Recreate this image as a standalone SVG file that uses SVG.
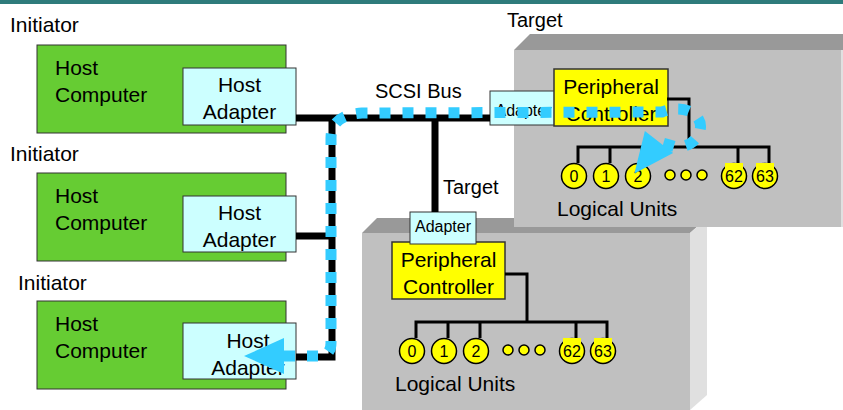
<svg xmlns="http://www.w3.org/2000/svg" width="843" height="410" viewBox="0 0 843 410">
<style>
.t{font-family:"Liberation Sans",Arial,sans-serif;fill:#000}
.big{font-size:21px}
.lbl{font-size:20px}
.sm{font-size:16px}
.mid{text-anchor:middle}
.hc{fill:#66cc33;stroke:#333;stroke-width:1}
.ha{fill:#ccffff;stroke:#333;stroke-width:1}
.pc{fill:#ffff00;stroke:#333;stroke-width:1.5}
.lu{fill:#ffff00;stroke:#000;stroke-width:1.5}
.hl{fill:#ffff00}
.tree{fill:none;stroke:#000;stroke-width:3}
.bus{fill:none;stroke:#000;stroke-width:7}
.flow{fill:none;stroke:#33ccff;stroke-width:11;stroke-dasharray:11 12}
.front{fill:#c0c0c0}
.topf{fill:#999999}
.side{fill:#e0e0e0}
</style>
<defs>
<marker id="arrowS" markerUnits="userSpaceOnUse" markerWidth="40" markerHeight="36" viewBox="0 0 38 34" refX="0" refY="17" orient="auto-start-reverse" overflow="visible">
<path d="M0,0 L38,17 L0,34 z" fill="#33ccff"/>
</marker>
<marker id="arrowE" markerUnits="userSpaceOnUse" markerWidth="40" markerHeight="36" viewBox="0 0 38 34" refX="0" refY="17" orient="128" overflow="visible">
<path d="M0,0 L38,17 L0,34 z" fill="#33ccff"/>
</marker>
</defs>
<rect x="0" y="0" width="843" height="4" fill="#2e7b7b"/>

<g id="initiator1">
<text class="t big" x="10" y="32">Initiator</text>
<rect class="hc" x="37" y="45" width="249" height="88"/>
<text class="t big" x="55" y="75">Host</text>
<text class="t big" x="55" y="102">Computer</text>
<rect class="ha" x="183" y="68" width="113" height="57"/>
<text class="t big mid" x="239.5" y="92">Host</text>
<text class="t big mid" x="239.5" y="119">Adapter</text>
</g>

<g id="initiator2">
<text class="t big" x="10" y="161">Initiator</text>
<rect class="hc" x="37" y="173" width="249" height="88"/>
<text class="t big" x="55" y="203">Host</text>
<text class="t big" x="55" y="230">Computer</text>
<rect class="ha" x="183" y="196" width="113" height="56"/>
<text class="t big mid" x="239.5" y="220">Host</text>
<text class="t big mid" x="239.5" y="247">Adapter</text>
</g>

<g id="initiator3">
<text class="t big" x="18" y="290">Initiator</text>
<rect class="hc" x="37" y="301" width="249" height="88"/>
<text class="t big" x="55" y="331">Host</text>
<text class="t big" x="55" y="358">Computer</text>
<rect class="ha" x="183" y="323" width="113" height="56"/>
<text class="t big mid" x="248" y="348">Host</text>
<text class="t big mid" x="248" y="375">Adapter</text>
</g>

<g id="target2">
<text class="t lbl" x="443" y="194">Target</text>
<polygon class="topf" points="362,233 377,218 707,218 690,233"/>
<polygon class="side" points="690,233 707,218 707,395 690,410"/>
<rect class="front" x="362" y="233" width="328" height="177"/>
<rect class="pc" x="392" y="242" width="113" height="57"/>
<text class="t big mid" x="448.5" y="267">Peripheral</text>
<text class="t big mid" x="448.5" y="294">Controller</text>
<rect class="ha" x="410" y="212" width="66" height="32"/>
<text class="t sm mid" x="443" y="232">Adapter</text>
<g id="luns2">
<path class="tree" d="M505 274 H527 V322 M416 338 V322 H607 V338 M448 322 V338 M480 322 V338 M576 322 V338"/>
<circle class="lu" cx="412" cy="351" r="12.5"/>
<circle class="lu" cx="444" cy="351" r="12.5"/>
<circle class="lu" cx="476" cy="351" r="12.5"/>
<circle class="lu" cx="508" cy="350" r="5"/>
<circle class="lu" cx="524" cy="350" r="5"/>
<circle class="lu" cx="540" cy="350" r="5"/>
<circle class="lu" cx="572" cy="351" r="12.5"/>
<circle class="lu" cx="603" cy="351" r="12.5"/>
<rect class="hl" x="563" y="338" width="18" height="21"/>
<rect class="hl" x="594" y="338" width="18" height="21"/>
<text class="t sm mid" x="412" y="357">0</text>
<text class="t sm mid" x="444" y="357">1</text>
<text class="t sm mid" x="476" y="357">2</text>
<text class="t sm mid" x="572" y="357">62</text>
<text class="t sm mid" x="603" y="357">63</text>
<text class="t big" x="395" y="391">Logical Units</text>
</g>
</g>

<g id="target1">
<text class="t lbl" x="507" y="27">Target</text>
<polygon class="topf" points="514,50 530,34 843,34 843,50"/>
<rect class="side" x="841" y="50" width="2" height="177"/>
<rect class="front" x="514" y="50" width="327" height="177"/>
<rect class="ha" x="490" y="91" width="67" height="34"/>
<text class="t sm mid" x="523.5" y="116">Adapter</text>
<rect class="pc" x="554" y="69" width="114" height="57"/>
<text class="t big mid" x="611" y="94">Peripheral</text>
<text class="t big mid" x="611" y="121">Controller</text>
<g id="luns1" transform="translate(162,-175)">
<path class="tree" d="M505 274 H527 V322 M416 338 V322 H607 V338 M448 322 V338 M480 322 V338 M576 322 V338"/>
<circle class="lu" cx="412" cy="351" r="12.5"/>
<circle class="lu" cx="444" cy="351" r="12.5"/>
<circle class="lu" cx="476" cy="351" r="12.5"/>
<circle class="lu" cx="508" cy="350" r="5"/>
<circle class="lu" cx="524" cy="350" r="5"/>
<circle class="lu" cx="540" cy="350" r="5"/>
<circle class="lu" cx="572" cy="351" r="12.5"/>
<circle class="lu" cx="603" cy="351" r="12.5"/>
<rect class="hl" x="563" y="338" width="18" height="21"/>
<rect class="hl" x="594" y="338" width="18" height="21"/>
<text class="t sm mid" x="412" y="357">0</text>
<text class="t sm mid" x="444" y="357">1</text>
<text class="t sm mid" x="476" y="357">2</text>
<text class="t sm mid" x="572" y="357">62</text>
<text class="t sm mid" x="603" y="357">63</text>
<text class="t big" x="395" y="391">Logical Units</text>
</g>
</g>

<g id="connectors">
<text class="t lbl" x="375" y="98">SCSI Bus</text>
<path class="bus" d="M296 118 H490 M332 118 V360.5 M296 236 H332 M296 357 H335.5 M435 118 V212"/>
<path class="flow" d="M284 356 L318 356 Q331 356 331 343 L331 138 Q331 115 362 113 L662 112 C688 102 706 118 699 133 C695 142 688 147 676 147 L659 142" marker-start="url(#arrowS)" marker-end="url(#arrowE)"/>
</g>
</svg>
